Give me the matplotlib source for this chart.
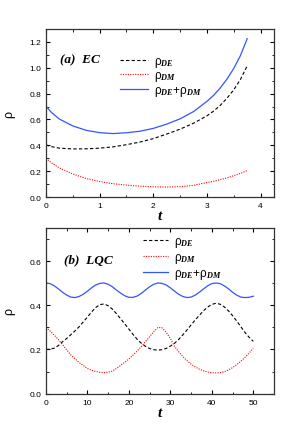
import numpy as np
import matplotlib
matplotlib.use("Agg")
import matplotlib.pyplot as plt
from matplotlib.ticker import MultipleLocator

plt.rcParams['font.family'] = 'Liberation Sans'
plt.rcParams['mathtext.fontset'] = 'custom'
plt.rcParams['mathtext.rm'] = 'Liberation Sans'
plt.rcParams['mathtext.it'] = 'Liberation Serif:italic:bold'
plt.rcParams['mathtext.bf'] = 'Liberation Serif:bold'

# (a) EC
t_ec = [0, 0.1, 0.25, 0.5, 0.75, 1.0, 1.25, 1.5, 1.75, 2.0, 2.25, 2.5,
        2.75, 3.0, 3.125, 3.25, 3.375, 3.5, 3.625, 3.75]
de_ec = [0.403, 0.390, 0.378, 0.372, 0.373, 0.378, 0.388, 0.405, 0.425, 0.452,
         0.487, 0.525, 0.571, 0.628, 0.665, 0.710, 0.765, 0.830, 0.910, 1.015]
dm_ec = [0.300, 0.265, 0.225, 0.178, 0.143, 0.120, 0.103, 0.092, 0.084, 0.079,
         0.077, 0.080, 0.090, 0.112, 0.122, 0.135, 0.148, 0.165, 0.183, 0.205]
tot_ec = [0.703, 0.655, 0.603, 0.550, 0.516, 0.498, 0.491, 0.497, 0.509, 0.531,
          0.564, 0.605, 0.661, 0.740, 0.787, 0.845, 0.913, 0.995, 1.095, 1.225]

# (b) LQC
t_lqc = list(range(0, 51))
de_lqc = [0.200, 0.201, 0.206, 0.218, 0.235, 0.250, 0.267, 0.284, 0.303, 0.325,
          0.347, 0.370, 0.390, 0.403, 0.406, 0.398, 0.383, 0.362, 0.339, 0.316,
          0.292, 0.268, 0.246, 0.228, 0.214, 0.204, 0.199, 0.197, 0.199, 0.205,
          0.215, 0.228, 0.245, 0.266, 0.288, 0.311, 0.334, 0.355, 0.375, 0.392,
          0.404, 0.409, 0.405, 0.393, 0.375, 0.353, 0.329, 0.303, 0.277, 0.255,
          0.237]
dm_lqc = [0.300, 0.283, 0.265, 0.245, 0.222, 0.198, 0.175, 0.158, 0.141, 0.127,
          0.114, 0.106, 0.100, 0.097, 0.095, 0.097, 0.102, 0.114, 0.128, 0.142,
          0.157, 0.175, 0.193, 0.213, 0.236, 0.258, 0.281, 0.300, 0.298, 0.278,
          0.250, 0.214, 0.190, 0.168, 0.150, 0.133, 0.121, 0.111, 0.103, 0.098,
          0.095, 0.094, 0.095, 0.099, 0.107, 0.118, 0.131, 0.147, 0.164, 0.184,
          0.205]
tot_lqc = [0.501, 0.498, 0.488, 0.474, 0.459, 0.446, 0.437, 0.435, 0.440, 0.450,
           0.464, 0.479, 0.492, 0.499, 0.501, 0.495, 0.484, 0.469, 0.455, 0.443,
           0.436, 0.436, 0.442, 0.454, 0.469, 0.484, 0.495, 0.501, 0.499, 0.492,
           0.479, 0.464, 0.450, 0.440, 0.435, 0.437, 0.446, 0.459, 0.474, 0.488,
           0.498, 0.501, 0.498, 0.488, 0.475, 0.459, 0.446, 0.437, 0.435, 0.436,
           0.441]

lab_de = r'$\mathrm{\rho}_{DE}$'
lab_dm = r'$\mathrm{\rho}_{DM}$'
lab_tot = r'$\mathrm{\rho}_{DE}\mathrm{+\rho}_{DM}$'

fig = plt.figure(figsize=(3.07, 4.35), dpi=100)
ax1 = fig.add_axes([0.1498, 0.5448, 0.7427, 0.3862])
ax2 = fig.add_axes([0.1498, 0.0927, 0.7427, 0.381])


def style(ax):
    ax.tick_params(which='both', direction='in', top=True, right=True, labelsize=6)
    ax.tick_params(which='major', length=3, width=0.8)
    ax.tick_params(which='minor', length=1.8, width=0.6)
    for s in ax.spines.values():
        s.set_linewidth(0.9)
        s.set_color('#333333')
    ax.set_ylabel('ρ', fontsize=9, labelpad=10)
    ax.set_xlabel('t', fontsize=11, family='Liberation Serif', style='italic',
                  weight='bold', labelpad=0)


# top panel
ax1.plot(t_ec, de_ec, color='black', ls=(0, (3, 2)), lw=0.8, label=lab_de)
ax1.plot(t_ec, dm_ec, color='red', ls=(0, (1, 1.2)), lw=0.8, label=lab_dm)
ax1.plot(t_ec, tot_ec, color='#3355ff', lw=0.9, label=lab_tot)
ax1.set_xlim(0, 4.25)
ax1.set_ylim(0, 1.3)
ax1.xaxis.set_major_locator(MultipleLocator(1))
ax1.xaxis.set_minor_locator(MultipleLocator(0.5))
ax1.yaxis.set_minor_locator(MultipleLocator(0.1))
ax1.set_yticks([0, 0.2, 0.4, 0.6, 0.8, 1.0, 1.2])
ax1.set_yticklabels(['0.0', '0.2', '0.4', '0.6', '0.8', '1.0', '1.2'])
style(ax1)
ax1.text(0.06, 0.82, '(a)  EC', transform=ax1.transAxes, fontsize=9.5,
         family='Liberation Serif', style='italic', weight='bold', va='center')
ax1.legend(loc='upper left', bbox_to_anchor=(0.28, 0.91), frameon=False,
           fontsize=8.5, handlelength=2.3, handletextpad=0.5, labelspacing=0.05)

# bottom panel
ax2.plot(t_lqc, de_lqc, color='black', ls=(0, (3, 2)), lw=0.8, label=lab_de)
ax2.plot(t_lqc, dm_lqc, color='red', ls=(0, (1, 1.2)), lw=0.8, label=lab_dm)
ax2.plot(t_lqc, tot_lqc, color='#3355ff', lw=0.9, label=lab_tot)
ax2.set_xlim(0, 55)
ax2.set_ylim(0, 0.75)
ax2.xaxis.set_major_locator(MultipleLocator(10))
ax2.xaxis.set_minor_locator(MultipleLocator(5))
ax2.yaxis.set_minor_locator(MultipleLocator(0.1))
ax2.set_yticks([0, 0.2, 0.4, 0.6])
ax2.set_yticklabels(['0.0', '0.2', '0.4', '0.6'])
style(ax2)
ax2.text(0.08, 0.81, '(b)  LQC', transform=ax2.transAxes, fontsize=9.5,
         family='Liberation Serif', style='italic', weight='bold', va='center')
ax2.legend(loc='upper left', bbox_to_anchor=(0.38, 1.02), frameon=False,
           fontsize=8.5, handlelength=2.1, handletextpad=0.5, labelspacing=0.15)

fig.savefig('out.png', dpi=100)
